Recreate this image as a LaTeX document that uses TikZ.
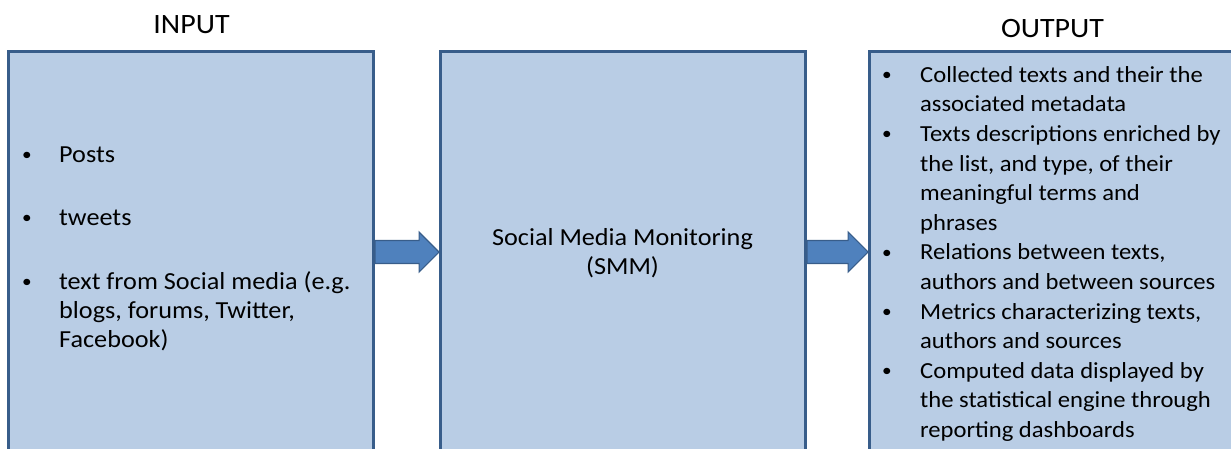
\documentclass[tikz,border=0pt]{standalone}
\usepackage{fontspec}
\setmainfont{Carlito}[FakeStretch=1.07]
\usetikzlibrary{shapes.arrows,calc}
\definecolor{boxfill}{HTML}{B9CDE5}
\definecolor{boxline}{HTML}{385D8A}
\definecolor{arrowfill}{HTML}{4F81BD}
\newcommand{\bul}{\raisebox{1.5pt}{\fontsize{18}{18}\selectfont\textbullet}}
\begin{document}
\begin{tikzpicture}[x=1pt,y=-1pt,
    box/.style={draw=boxline,fill=boxfill,line width=3pt,minimum width=365pt,minimum height=402pt,inner sep=0pt},
    bigarrow/.style={single arrow,draw=boxline,fill=arrowfill,line width=1.2pt,inner xsep=0pt,inner ysep=9pt,
        minimum width=40pt,shape border rotate=0},
    boxtext/.style={inner sep=0pt,font=\fontsize{23}{29.6}\selectfont},
    title/.style={inner sep=0pt,font=\fontsize{28}{30}\selectfont,anchor=base}]
    \useasboundingbox (0,0) rectangle (1231,448);
    \clip (0,0) rectangle (1231,448);
    % three boxes
    \node[box] (inbox) at (190.5,252) {};
    \node[box] (smm) at (622.5,252) {};
    \node[box,minimum width=371pt] (outbox) at (1054.5,252) {};
    \node[title] (intitle) at (191.5,33) {INPUT};
    \node[title] (outtitle) at (1052.5,37) {OUTPUT};
    % block arrows between the boxes
    \foreach \a/\b in {inbox/smm,smm/outbox}
        \path let \p1=(\a.east), \p2=(\b.west) in
            node[bigarrow,minimum height=\x2-\x1,anchor=tail] (arr-\a) at (\p1) {};
    % texts
    \node[boxtext,font=\fontsize{24.5}{29.3}\selectfont,anchor=north west] (intext) at (22,141.5) {%
        \renewcommand\arraystretch{1}%
        \begin{tabular}{@{}p{37pt}@{}l@{}}
        \bul & Posts\\[33.7pt]
        \bul & tweets\\[34.7pt]
        \bul & text from Social media (e.g.\\
             & blogs, forums, Twitter,\\
             & Facebook)
        \end{tabular}};
    \node[boxtext,font=\fontsize{24.5}{29.3}\selectfont,align=center] (smmtext) at ($(smm.center)+(0,1)$)
        {Social Media Monitoring\\(SMM)};
    \node[boxtext,anchor=north west] (outtext) at (882,61.3) {%
        \renewcommand\arraystretch{1}%
        \begin{tabular}{@{}p{38pt}@{}l@{}}
        \bul & Collected texts and their the\\
             & associated metadata\\
        \bul & Texts descriptions enriched by\\
             & the list, and type, of their\\
             & meaningful terms and\\
             & phrases\\
        \bul & Relations between texts,\\
             & authors and between sources\\
        \bul & Metrics characterizing texts,\\
             & authors and sources\\
        \bul & Computed data displayed by\\
             & the statistical engine through\\
             & reporting dashboards
        \end{tabular}};
\end{tikzpicture}
\end{document}
